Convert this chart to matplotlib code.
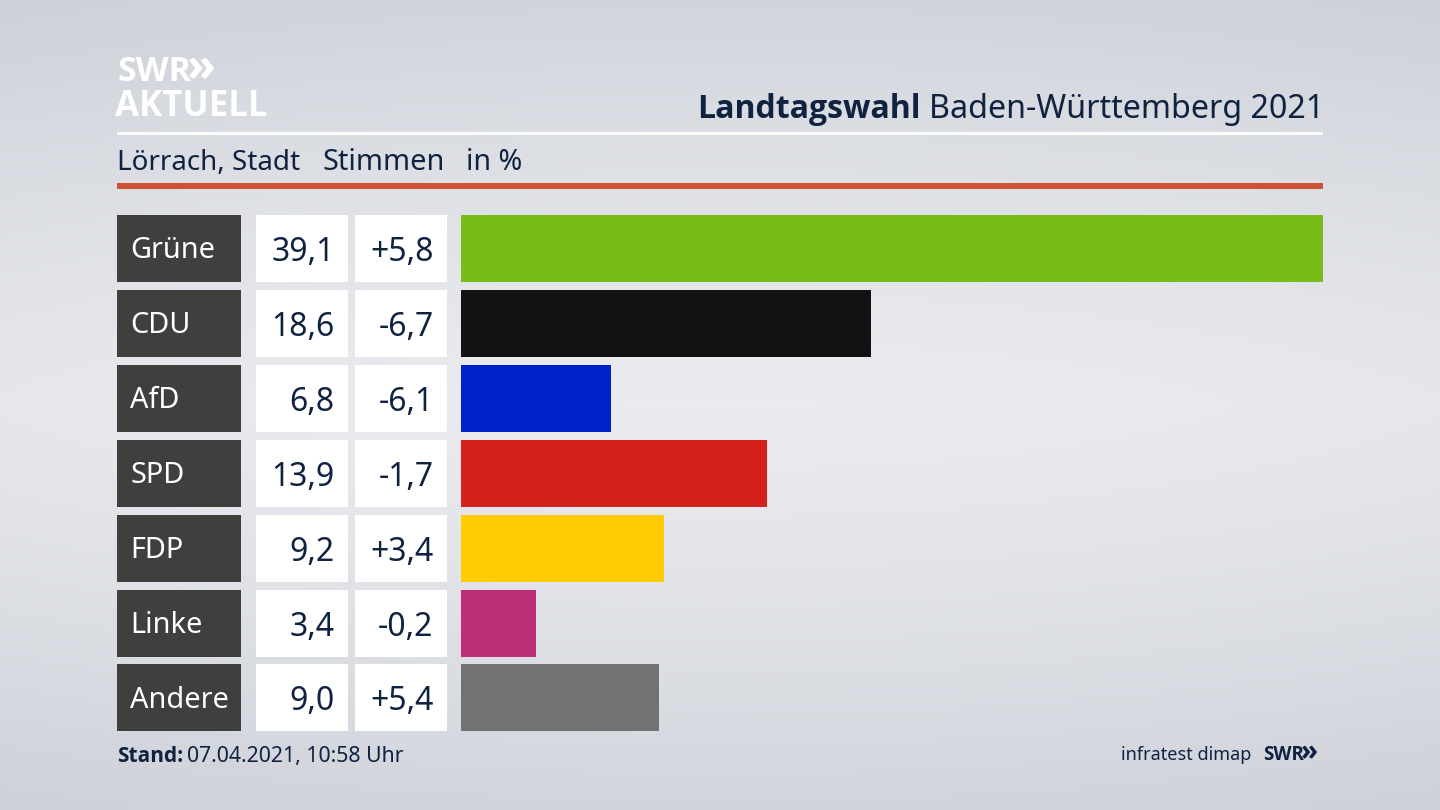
import numpy as np
import matplotlib
matplotlib.use("Agg")
import matplotlib.pyplot as plt
from matplotlib.patches import Rectangle

plt.rcParams["font.family"] = ["Noto Sans", "DejaVu Sans"]
BOLD = ["Open Sans", "DejaVu Sans"]

parties = ["Grüne", "CDU", "AfD", "SPD", "FDP", "Linke", "Andere"]
shares = [39.1, 18.6, 6.8, 13.9, 9.2, 3.4, 9.0]
changes = ["+5,8", "-6,7", "-6,1", "-1,7", "+3,4", "-0,2", "+5,4"]
bar_colors = ["#78bc1a", "#121212", "#0020c8", "#d6201e", "#ffcb05", "#bc2f78", "#717274"]

NAVY = "#0f2240"
W, H = 1440, 810
ROW_TOP = 215
ROW_H = 67
ROW_STEP = 74.9

fig = plt.figure(figsize=(W / 100, H / 100), dpi=100)

# background gradient, darker at the top and bottom edges
bg = fig.add_axes([0, 0, 1, 1], zorder=0)
yy, xx = np.mgrid[0:1:162j, 0:1:288j]
shade = np.abs(yy - 0.5) * 2
shade = 0.85 * shade ** 1.3 + 0.15 * (np.abs(xx - 0.5) * 2) ** 2
bg.imshow(shade, cmap=matplotlib.colors.LinearSegmentedColormap.from_list("bg", ["#eaebef", "#cdd1d8"]),
          vmin=0, vmax=1, aspect="auto", extent=[0, 1, 0, 1], interpolation="bilinear")
bg.axis("off")

# pixel overlay for the table cells, rules and text
ov = fig.add_axes([0, 0, 1, 1], zorder=1)
ov.set_xlim(0, W)
ov.set_ylim(H, 0)
ov.axis("off")
ov.patch.set_alpha(0)

# bars
bottom_px = ROW_TOP + 6 * ROW_STEP + ROW_H
ax = fig.add_axes([461 / W, 1 - bottom_px / H, (1323 - 461) / W, (bottom_px - ROW_TOP) / H], zorder=2)
ax.patch.set_alpha(0)
pos = np.arange(len(parties))
ax.barh(pos, shares, height=ROW_H / ROW_STEP, color=bar_colors)
half = ROW_H / ROW_STEP / 2
ax.set_xlim(0, max(shares))
ax.set_ylim(pos[-1] + half, -half)
ax.axis("off")

for i, party in enumerate(parties):
    top = ROW_TOP + i * ROW_STEP
    mid = top + ROW_H / 2
    ov.add_patch(Rectangle((117, top), 124, ROW_H, color="#3f403e", lw=0))
    ov.add_patch(Rectangle((256, top), 92, ROW_H, color="white", lw=0))
    ov.add_patch(Rectangle((355, top), 92, ROW_H, color="white", lw=0))
    ov.text(130, mid - 1, party, color="white", fontsize=20.8, va="center_baseline", ha="left")
    ov.text(334.5, mid, f"{shares[i]:.1f}".replace(".", ","), color=NAVY, fontsize=23, va="center_baseline", ha="right")
    ov.text(433.5, mid, changes[i], color=NAVY, fontsize=23, va="center_baseline", ha="right")

# header
ov.add_patch(Rectangle((117, 132), 1206, 3, color="white", lw=0))
ov.add_patch(Rectangle((117, 183), 1206, 6, color="#cf5237", lw=0))
ov.text(117, 81, "SWR", color="white", fontsize=24.5, fontweight="bold", family=BOLD, ha="left", va="baseline")
ov.text(186, 81, "»", color="white", fontsize=34, fontweight="bold", family=BOLD, ha="left", va="baseline")
ov.text(115, 116, "AKTUELL", color="white", fontsize=25, fontweight="bold", family=BOLD, ha="left", va="baseline")

ov.text(1324, 118, "Baden-Württemberg 2021", color=NAVY, fontsize=23.2, ha="right", va="baseline")
ov.text(921, 118, "Landtagswahl", color=NAVY, fontsize=23, fontweight="bold", family=BOLD, ha="right", va="baseline")

ov.text(117, 170, "Lörrach, Stadt", color=NAVY, fontsize=20, ha="left", va="baseline")
ov.text(322, 170, "Stimmen", color=NAVY, fontsize=20.8, ha="left", va="baseline")
ov.text(466, 170, "in %", color=NAVY, fontsize=20.6, ha="left", va="baseline")

# footer
ov.text(117, 762, "Stand:", color=NAVY, fontsize=15, fontweight="bold", family=BOLD, ha="left", va="baseline")
ov.text(187, 762, "07.04.2021, 10:58 Uhr", color=NAVY, fontsize=15.3, ha="left", va="baseline")
ov.text(1251, 760, "infratest dimap", color=NAVY, fontsize=13, ha="right", va="baseline")
ov.text(1263, 760, "SWR", color=NAVY, fontsize=13.5, fontweight="bold", family=BOLD, ha="left", va="baseline")
ov.text(1301, 760, "»", color=NAVY, fontsize=20, fontweight="bold", family=BOLD, ha="left", va="baseline")

fig.savefig("out.png", dpi=100)
plt.close(fig)
